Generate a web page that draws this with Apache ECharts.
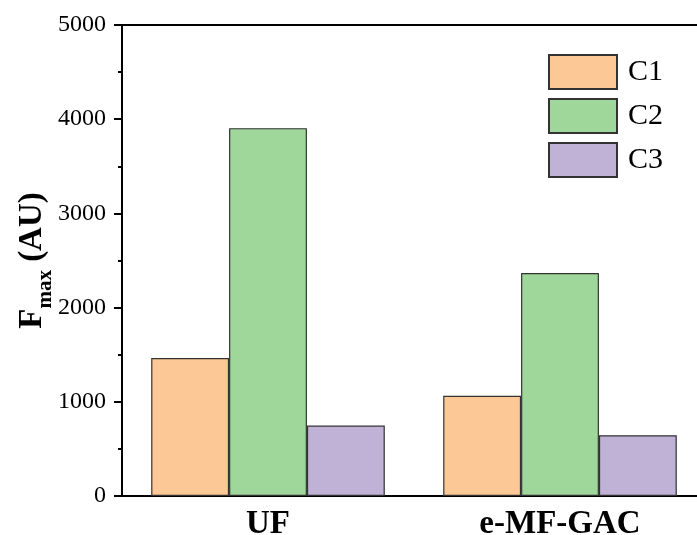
<!DOCTYPE html>
<html>
<head>
<meta charset="utf-8">
<script src="https://cdn.jsdelivr.net/npm/echarts@6/dist/echarts.min.js"></script>
<style>html,body{margin:0;padding:0;background:#fff}#c{width:697px;height:535px}</style>
</head>
<body>
<div id="c"></div>
<script>
var categories = ['UF', 'e-MF-GAC'];
var seriesNames = ['C1', 'C2', 'C3'];
var c1Values = [1465, 1063];
var c2Values = [3905, 2368];
var c3Values = [748, 645];
var yTicks = [0, 1000, 2000, 3000, 4000, 5000];
var colors = ['#FCC896', '#9FD79B', '#C0B1D6'];
var font = '"Liberation Serif", "Times New Roman", serif';

var chart = echarts.init(document.getElementById('c'));
var values = [c1Values, c2Values, c3Values];
chart.setOption({
  animation: false,
  grid: {left: 122, top: 25, bottom: 39, width: 584, containLabel: false, outerBoundsMode: 'none'},
  legend: {
    orient: 'vertical', left: 543, top: 49,
    itemWidth: 68, itemHeight: 34, itemGap: 8, icon: 'rect',
    textStyle: {fontFamily: font, fontSize: 30, color: '#000', padding: [0, 0, 0, 6]},
    data: seriesNames
  },
  xAxis: [{
    type: 'category', data: categories,
    axisLine: {lineStyle: {color: '#000', width: 2}},
    axisTick: {show: false},
    axisLabel: {fontFamily: font, fontSize: 33, fontWeight: 'bold', color: '#000', margin: 12}
  }, {
    type: 'category', data: categories, position: 'top',
    axisLine: {lineStyle: {color: '#000', width: 2}},
    axisTick: {show: false}, axisLabel: {show: false}
  }],
  yAxis: {
    type: 'value', min: yTicks[0], max: yTicks[yTicks.length - 1], interval: 1000,
    axisLine: {show: true, lineStyle: {color: '#000', width: 2}},
    axisTick: {show: true, inside: false, length: 8, lineStyle: {color: '#000', width: 2}},
    minorTick: {show: true, splitNumber: 2, length: 4, lineStyle: {color: '#000', width: 2}},
    splitLine: {show: false},
    axisLabel: {fontFamily: font, fontSize: 24, color: '#000', margin: 16, formatter: function (v) { return String(v); }},
    name: '{a|F}{b|max}{a| (AU)}',
    nameLocation: 'middle', nameRotate: 90, nameGap: 73, nameMoveOverlap: false,
    nameTextStyle: {
      rich: {
        a: {fontFamily: font, fontSize: 33, fontWeight: 'bold', color: '#000', verticalAlign: 'bottom', lineHeight: 36},
        b: {fontFamily: font, fontSize: 21, fontWeight: 'bold', color: '#000', verticalAlign: 'bottom', lineHeight: 28, padding: [0, 0, -7, 0]}
      }
    }
  },
  series: seriesNames.map(function (n, i) {
    return {
      name: n, type: 'bar', data: values[i],
      barGap: '0%', barCategoryGap: '20%',
      itemStyle: {color: colors[i], borderColor: '#333', borderWidth: 1.2}
    };
  })
});
</script>
</body>
</html>
